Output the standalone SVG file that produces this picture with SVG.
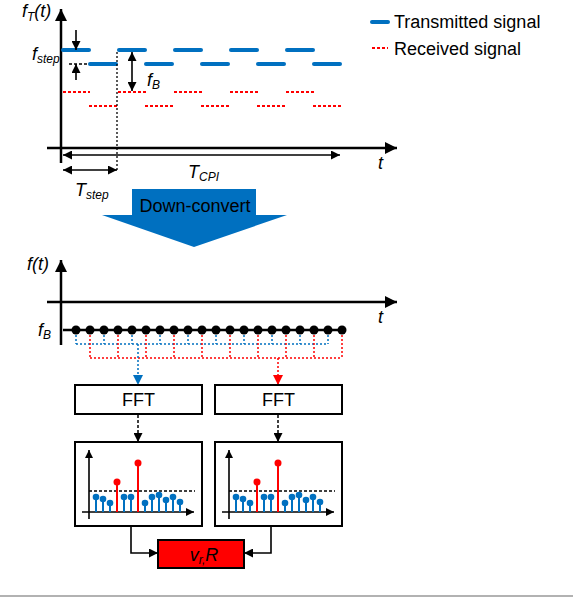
<svg xmlns="http://www.w3.org/2000/svg" width="573" height="598" viewBox="0 0 573 598">
<defs>
<style>
.ax{stroke:#000;stroke-width:2.5;fill:none}
.thin{stroke:#000;stroke-width:1.6;fill:none}
.tx{stroke:#0070C0;stroke-width:4;stroke-linecap:round;fill:none}
.rx{stroke:#FF0000;stroke-width:2;stroke-dasharray:3 2;fill:none}
.bd{stroke:#0070C0;stroke-width:1.5;stroke-dasharray:2 2;fill:none}
.rd{stroke:#FF0000;stroke-width:1.5;stroke-dasharray:2 2;fill:none}
.kd{stroke:#000;stroke-width:1.5;stroke-dasharray:3 2;fill:none}
.box{fill:#fff;stroke:#000;stroke-width:2}
.lab{font-family:"Liberation Sans",Arial,sans-serif;font-size:18px;fill:#000}
.it{font-family:"Liberation Sans",Arial,sans-serif;font-size:18px;font-style:italic;fill:#000}
.sb{font-size:12px}
.bs{stroke:#0070C0;stroke-width:2}
.rs{stroke:#FF0000;stroke-width:2}
</style>
<marker id="axh" viewBox="0 0 12 12" refX="12" refY="6" markerWidth="13" markerHeight="12" markerUnits="userSpaceOnUse" orient="auto-start-reverse"><path d="M0,0 L12,6 L0,12 z" fill="#000"/></marker>
<marker id="dh" viewBox="0 0 10 10" refX="10" refY="5" markerWidth="10" markerHeight="9" markerUnits="userSpaceOnUse" orient="auto-start-reverse"><path d="M0,0 L10,5 L0,10 z" fill="#000"/></marker>
<marker id="sh" viewBox="0 0 10 10" refX="10" refY="5" markerWidth="9" markerHeight="8" markerUnits="userSpaceOnUse" orient="auto"><path d="M0,0 L10,5 L0,10 z" fill="#000"/></marker>
<marker id="bh" viewBox="0 0 10 10" refX="10" refY="5" markerWidth="10" markerHeight="10" markerUnits="userSpaceOnUse" orient="auto"><path d="M0,0 L10,5 L0,10 z" fill="#0070C0"/></marker>
<marker id="rh" viewBox="0 0 10 10" refX="10" refY="5" markerWidth="10" markerHeight="10" markerUnits="userSpaceOnUse" orient="auto"><path d="M0,0 L10,5 L0,10 z" fill="#FF0000"/></marker>
<g id="spec">
<line x1="89" y1="519" x2="89" y2="450" class="thin" marker-end="url(#sh)"/>
<line x1="82" y1="512" x2="194" y2="512" class="thin" marker-end="url(#sh)"/>
<line x1="89" y1="491" x2="195" y2="491" class="kd"/>
<g class="bs">
<line x1="96" y1="512" x2="96" y2="497"/><line x1="103" y1="512" x2="103" y2="499"/><line x1="110" y1="512" x2="110" y2="503"/>
<line x1="124" y1="512" x2="124" y2="497"/><line x1="131" y1="512" x2="131" y2="497"/><line x1="145" y1="512" x2="145" y2="503"/>
<line x1="152" y1="512" x2="152" y2="497"/><line x1="159" y1="512" x2="159" y2="495"/><line x1="166" y1="512" x2="166" y2="500"/>
<line x1="173" y1="512" x2="173" y2="497"/><line x1="180" y1="512" x2="180" y2="502"/>
</g>
<g fill="#0070C0">
<circle cx="96" cy="497" r="3.3"/><circle cx="103" cy="499" r="3.3"/><circle cx="110" cy="503" r="3.3"/>
<circle cx="124" cy="497" r="3.3"/><circle cx="131" cy="497" r="3.3"/><circle cx="145" cy="503" r="3.3"/>
<circle cx="152" cy="497" r="3.3"/><circle cx="159" cy="495" r="3.3"/><circle cx="166" cy="500" r="3.3"/>
<circle cx="173" cy="497" r="3.3"/><circle cx="180" cy="502" r="3.3"/>
</g>
<g class="rs"><line x1="117" y1="512" x2="117" y2="482"/><line x1="138" y1="512" x2="138" y2="463"/></g>
<g fill="#FF0000"><circle cx="117" cy="482" r="3.5"/><circle cx="138" cy="463" r="3.5"/></g>
</g>
</defs>

<!-- Top chart -->
<g id="top-chart">
<line x1="61" y1="163" x2="61" y2="9" class="ax" marker-end="url(#axh)"/>
<line x1="47" y1="148" x2="397" y2="148" class="ax" marker-end="url(#axh)"/>
<g id="transmitted">
<line x1="63" y1="50" x2="89" y2="50" class="tx"/><line x1="119" y1="50" x2="145" y2="50" class="tx"/><line x1="175" y1="50" x2="201" y2="50" class="tx"/><line x1="231" y1="50" x2="257" y2="50" class="tx"/><line x1="287" y1="50" x2="313" y2="50" class="tx"/>
<line x1="90" y1="64" x2="116" y2="64" class="tx"/><line x1="146" y1="64" x2="172" y2="64" class="tx"/><line x1="202" y1="64" x2="228" y2="64" class="tx"/><line x1="258" y1="64" x2="284" y2="64" class="tx"/><line x1="314" y1="64" x2="340" y2="64" class="tx"/>
</g>
<g id="received">
<line x1="63" y1="92" x2="90" y2="92" class="rx"/><line x1="118" y1="92" x2="146" y2="92" class="rx"/><line x1="174" y1="92" x2="202" y2="92" class="rx"/><line x1="230" y1="92" x2="258" y2="92" class="rx"/><line x1="286" y1="92" x2="314" y2="92" class="rx"/>
<line x1="89" y1="106" x2="118" y2="106" class="rx"/><line x1="145" y1="106" x2="174" y2="106" class="rx"/><line x1="201" y1="106" x2="230" y2="106" class="rx"/><line x1="257" y1="106" x2="286" y2="106" class="rx"/><line x1="313" y1="106" x2="342" y2="106" class="rx"/>
</g>
<g id="dims">
<line x1="76" y1="30" x2="76" y2="50" class="thin" marker-end="url(#dh)"/>
<line x1="76" y1="80" x2="76" y2="64" class="thin" marker-end="url(#dh)"/>
<line x1="69" y1="64" x2="88" y2="64" stroke="#000" stroke-width="1.3" stroke-dasharray="3 2"/>
<line x1="117" y1="52" x2="117" y2="172" stroke="#000" stroke-width="1.3" stroke-dasharray="2 2"/>
<line x1="132" y1="52" x2="132" y2="91" class="thin" marker-start="url(#dh)" marker-end="url(#dh)"/>
<line x1="63" y1="155" x2="340" y2="155" class="thin" marker-start="url(#dh)" marker-end="url(#dh)"/>
<line x1="63" y1="170" x2="117" y2="170" class="thin" marker-start="url(#dh)" marker-end="url(#dh)"/>
</g>
<text x="22" y="17" class="it">f<tspan class="sb" dy="4">T</tspan><tspan dy="-4">(t)</tspan></text>
<text x="32" y="60" class="it">f<tspan class="sb" dy="3">step</tspan></text>
<text x="147" y="86" class="it">f<tspan class="sb" dy="3">B</tspan></text>
<text x="75" y="196" class="it">T<tspan class="sb" dy="3">step</tspan></text>
<text x="188" y="178" class="it">T<tspan class="sb" dy="3">CPI</tspan></text>
<text x="378" y="169" class="it">t</text>
</g>

<g id="legend">
<line x1="372" y1="22" x2="388" y2="22" class="tx" stroke-linecap="butt"/>
<text x="394" y="28" class="lab">Transmitted signal</text>
<line x1="372" y1="48" x2="388" y2="48" class="rx"/>
<text x="394" y="55" class="lab">Received signal</text>
</g>

<g id="down-convert">
<polygon points="132,189 256,189 256,215 287,215 194,247 102,215 132,215" fill="#0070C0"/>
<text x="195" y="212" class="lab" text-anchor="middle" fill="#0a1430">Down-convert</text>
</g>

<!-- Bottom chart -->
<g id="bottom-chart">
<line x1="61" y1="345" x2="61" y2="260" class="ax" marker-end="url(#axh)"/>
<line x1="47" y1="302" x2="397" y2="302" class="ax" marker-end="url(#axh)"/>
<line x1="63" y1="330" x2="342" y2="330" class="ax"/>
<g fill="#000">
<circle cx="76" cy="330" r="4.5"/><circle cx="90" cy="330" r="4.5"/><circle cx="104" cy="330" r="4.5"/><circle cx="118" cy="330" r="4.5"/><circle cx="132" cy="330" r="4.5"/>
<circle cx="146" cy="330" r="4.5"/><circle cx="160" cy="330" r="4.5"/><circle cx="174" cy="330" r="4.5"/><circle cx="188" cy="330" r="4.5"/><circle cx="202" cy="330" r="4.5"/>
<circle cx="216" cy="330" r="4.5"/><circle cx="230" cy="330" r="4.5"/><circle cx="244" cy="330" r="4.5"/><circle cx="258" cy="330" r="4.5"/><circle cx="272" cy="330" r="4.5"/>
<circle cx="286" cy="330" r="4.5"/><circle cx="300" cy="330" r="4.5"/><circle cx="314" cy="330" r="4.5"/><circle cx="328" cy="330" r="4.5"/><circle cx="342" cy="330" r="4.5"/>
</g>
<text x="27" y="270" class="it">f(t)</text>
<text x="38" y="336" class="it">f<tspan class="sb" dy="3">B</tspan></text>
<text x="378" y="323" class="it">t</text>
</g>

<g id="connectors">
<path class="bd" d="M76,335V344M104,335V344M132,335V344M160,335V344M188,335V344M216,335V344M244,335V344M272,335V344M300,335V344M328,335V344M76,344H328"/>
<path class="rd" d="M90,335V358M118,335V358M146,335V358M174,335V358M202,335V358M230,335V358M258,335V358M286,335V358M314,335V358M342,335V358M90,358H342"/>
<line x1="138" y1="344" x2="138" y2="385" class="bd" marker-end="url(#bh)"/>
<line x1="278" y1="358" x2="278" y2="385" class="rd" marker-end="url(#rh)"/>
<line x1="138" y1="415" x2="138" y2="442" class="kd" marker-end="url(#dh)"/>
<line x1="278" y1="415" x2="278" y2="442" class="kd" marker-end="url(#dh)"/>
<path d="M131,527V553H158" class="thin" marker-end="url(#dh)"/>
<path d="M271,527V553H244" class="thin" marker-end="url(#dh)"/>
</g>

<g id="fft1">
<rect x="75" y="385" width="127" height="29" class="box"/>
<text x="138.5" y="406" class="lab" text-anchor="middle">FFT</text>
</g>
<g id="fft2">
<rect x="215" y="385" width="127" height="29" class="box"/>
<text x="278.5" y="406" class="lab" text-anchor="middle">FFT</text>
</g>
<g id="spectrum1">
<rect x="75" y="442" width="127" height="84" class="box"/>
<use href="#spec"/>
</g>
<g id="spectrum2">
<rect x="215" y="442" width="127" height="84" class="box"/>
<use href="#spec" x="140"/>
</g>
<g id="vr-box">
<rect x="158" y="540" width="86" height="28" fill="#FF0000" stroke="#000" stroke-width="2"/>
<text x="204" y="561" class="it" text-anchor="middle" fill="#3a0000">v<tspan class="sb" dy="3">r</tspan><tspan class="sb">,</tspan><tspan dy="-3">R</tspan></text>
</g>

<line x1="0" y1="596" x2="573" y2="596" stroke="#999" stroke-width="1.5"/>
</svg>
